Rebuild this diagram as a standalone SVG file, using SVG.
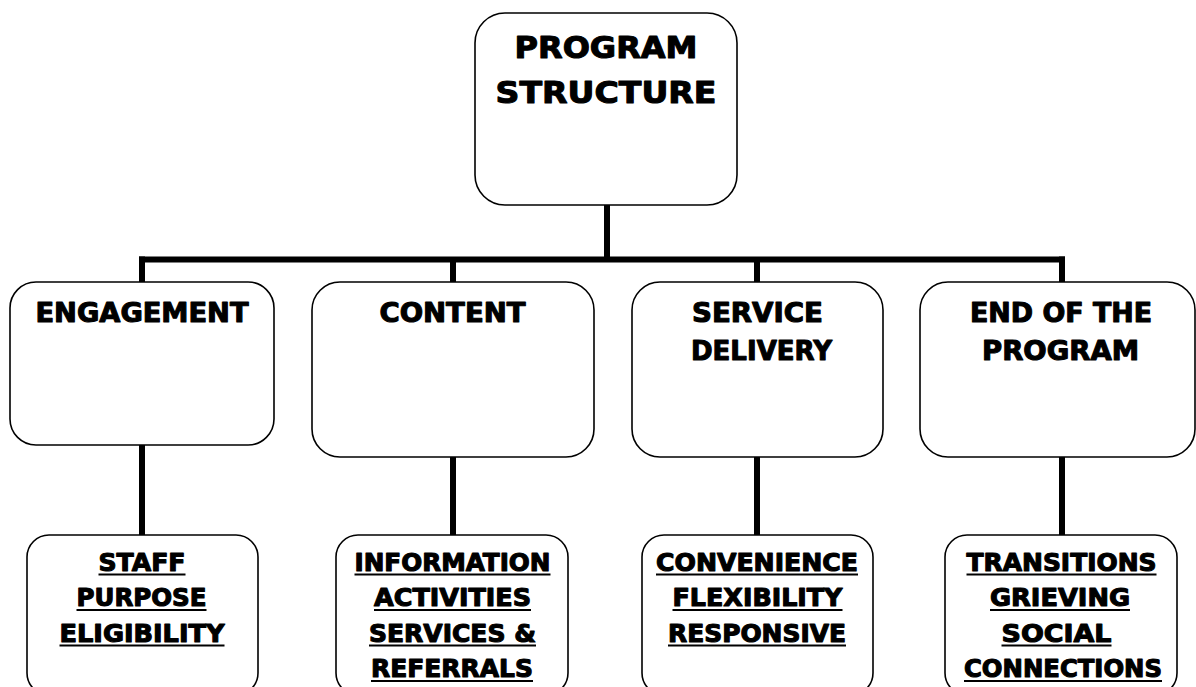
<svg xmlns="http://www.w3.org/2000/svg" width="1196" height="687" viewBox="0 0 1196 687">
  <style>
    .box { fill: #ffffff; stroke: #000000; stroke-width: 1.6; }
    .wire { fill: none; stroke: #000000; stroke-width: 6; stroke-linecap: butt; }
    .t { font-family: "DejaVu Sans", "Liberation Sans", sans-serif; font-weight: bold; fill: #000000; text-anchor: middle; stroke: #000000; stroke-width: 1.1; stroke-linejoin: round; }
    .top { font-size: 31px; }
    .mid { font-size: 27px; }
    .sub { font-size: 24px; }
    .ul { stroke: #000000; stroke-width: 2; }
  </style>

  <!-- connectors -->
  <g id="connectors">
    <path class="wire" d="M607 205 V259.5"/>
    <path class="wire" d="M139 259.5 H1065"/>
    <path class="wire" d="M142 256.5 V282"/>
    <path class="wire" d="M453 259.5 V282"/>
    <path class="wire" d="M757 259.5 V282"/>
    <path class="wire" d="M1062 256.5 V282"/>
    <path class="wire" d="M142 445 V535"/>
    <path class="wire" d="M453 457 V535"/>
    <path class="wire" d="M757 457 V535"/>
    <path class="wire" d="M1062 457 V535"/>
  </g>

  <!-- root node -->
  <g id="program-structure">
    <rect class="box" x="475" y="13" width="262" height="192" rx="30" ry="30"/>
    <text class="t top" x="606" y="58" textLength="183" lengthAdjust="spacingAndGlyphs">PROGRAM</text>
    <text class="t top" x="606" y="103" textLength="221" lengthAdjust="spacingAndGlyphs">STRUCTURE</text>
  </g>

  <!-- second level -->
  <g id="engagement">
    <rect class="box" x="10" y="282" width="264" height="163" rx="26" ry="26"/>
    <text class="t mid" x="142" y="322" textLength="213" lengthAdjust="spacingAndGlyphs">ENGAGEMENT</text>
  </g>
  <g id="content">
    <rect class="box" x="312" y="282" width="282" height="175" rx="28" ry="28"/>
    <text class="t mid" x="452.5" y="322" textLength="146" lengthAdjust="spacingAndGlyphs">CONTENT</text>
  </g>
  <g id="service-delivery">
    <rect class="box" x="632" y="282" width="251" height="175" rx="28" ry="28"/>
    <text class="t mid" x="757.5" y="322" textLength="131" lengthAdjust="spacingAndGlyphs">SERVICE</text>
    <text class="t mid" x="761.5" y="360" textLength="141" lengthAdjust="spacingAndGlyphs">DELIVERY</text>
  </g>
  <g id="end-of-program">
    <rect class="box" x="920" y="282" width="275" height="175" rx="28" ry="28"/>
    <text class="t mid" x="1061" y="322" textLength="182" lengthAdjust="spacingAndGlyphs">END OF THE</text>
    <text class="t mid" x="1060.5" y="360" textLength="157" lengthAdjust="spacingAndGlyphs">PROGRAM</text>
  </g>

  <!-- third level -->
  <g id="engagement-items">
    <rect class="box" x="27" y="535" width="231" height="160" rx="22" ry="22"/>
    <text class="t sub" x="142" y="570.5" textLength="87" lengthAdjust="spacingAndGlyphs">STAFF</text>
    <line class="ul" x1="98.5" y1="574.5" x2="185.5" y2="574.5"/>
    <text class="t sub" x="141.5" y="606" textLength="130" lengthAdjust="spacingAndGlyphs">PURPOSE</text>
    <line class="ul" x1="76.5" y1="610" x2="206.5" y2="610"/>
    <text class="t sub" x="142" y="641.5" textLength="165" lengthAdjust="spacingAndGlyphs">ELIGIBILITY</text>
    <line class="ul" x1="59.5" y1="645.5" x2="224.5" y2="645.5"/>
  </g>
  <g id="content-items">
    <rect class="box" x="336" y="535" width="232" height="160" rx="22" ry="22"/>
    <text class="t sub" x="452.5" y="570.5" textLength="196" lengthAdjust="spacingAndGlyphs">INFORMATION</text>
    <line class="ul" x1="354.5" y1="574.5" x2="550.5" y2="574.5"/>
    <text class="t sub" x="452.5" y="606" textLength="157" lengthAdjust="spacingAndGlyphs">ACTIVITIES</text>
    <line class="ul" x1="374" y1="610" x2="531" y2="610"/>
    <text class="t sub" x="452.5" y="641.5" textLength="167" lengthAdjust="spacingAndGlyphs">SERVICES &amp;</text>
    <line class="ul" x1="369" y1="645.5" x2="536" y2="645.5"/>
    <text class="t sub" x="452" y="677" textLength="162" lengthAdjust="spacingAndGlyphs">REFERRALS</text>
    <line class="ul" x1="371" y1="681" x2="533" y2="681"/>
  </g>
  <g id="service-delivery-items">
    <rect class="box" x="642" y="535" width="231" height="160" rx="22" ry="22"/>
    <text class="t sub" x="757" y="570.5" textLength="202" lengthAdjust="spacingAndGlyphs">CONVENIENCE</text>
    <line class="ul" x1="656" y1="574.5" x2="858" y2="574.5"/>
    <text class="t sub" x="757.5" y="606" textLength="170" lengthAdjust="spacingAndGlyphs">FLEXIBILITY</text>
    <line class="ul" x1="672.5" y1="610" x2="842.5" y2="610"/>
    <text class="t sub" x="757" y="641.5" textLength="178" lengthAdjust="spacingAndGlyphs">RESPONSIVE</text>
    <line class="ul" x1="668" y1="645.5" x2="846" y2="645.5"/>
  </g>
  <g id="end-of-program-items">
    <rect class="box" x="945" y="535" width="232" height="160" rx="22" ry="22"/>
    <text class="t sub" x="1061.5" y="570.5" textLength="190" lengthAdjust="spacingAndGlyphs">TRANSITIONS</text>
    <line class="ul" x1="966.5" y1="574.5" x2="1156.5" y2="574.5"/>
    <text class="t sub" x="1060" y="606" textLength="140" lengthAdjust="spacingAndGlyphs">GRIEVING</text>
    <line class="ul" x1="990" y1="610" x2="1130" y2="610"/>
    <text class="t sub" x="1056.5" y="641.5" textLength="110" lengthAdjust="spacingAndGlyphs">SOCIAL</text>
    <line class="ul" x1="1001.5" y1="645.5" x2="1111.5" y2="645.5"/>
    <text class="t sub" x="1063" y="677" textLength="198" lengthAdjust="spacingAndGlyphs">CONNECTIONS</text>
    <line class="ul" x1="964" y1="681" x2="1162" y2="681"/>
  </g>
</svg>
